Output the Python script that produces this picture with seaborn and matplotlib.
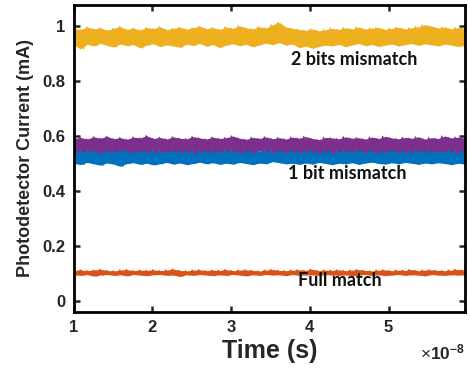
import numpy as np
import matplotlib
matplotlib.use("Agg")
import matplotlib.pyplot as plt
import seaborn as sns

# ---- data (mA), envelopes of the noisy traces ----
t_start, t_end = 1.0, 5.97   # in units of 1e-8 s

yellow_hi = [0.990,0.985,0.995,0.988,0.992,0.983,0.990,0.997,0.986,0.991,
             0.984,0.993,0.989,0.996,0.985,0.990,0.994,0.987,0.992,0.998,
             0.988,0.993,0.986,0.995,0.990,0.999,0.992,0.988,0.996,0.991,
             1.003,1.012,0.995,0.990,0.986,0.983,0.988,0.981,0.985,0.990,
             0.986,0.992,0.988,0.995,0.987,0.991,0.993,0.986,0.990,0.994,
             0.988,0.992,0.996,1.003,0.998,0.991,0.995,0.988,0.993,0.990]
yellow_lo = [0.930,0.915,0.932,0.926,0.935,0.928,0.922,0.933,0.927,0.931,
             0.919,0.929,0.934,0.924,0.930,0.926,0.921,0.932,0.928,0.935,
             0.925,0.931,0.920,0.929,0.934,0.927,0.932,0.923,0.930,0.936,
             0.931,0.938,0.929,0.933,0.920,0.925,0.918,0.924,0.929,0.926,
             0.932,0.923,0.930,0.935,0.927,0.931,0.924,0.929,0.933,0.926,
             0.931,0.935,0.928,0.934,0.930,0.926,0.933,0.929,0.924,0.928]

purple_hi = [0.590,0.594,0.588,0.596,0.591,0.598,0.589,0.593,0.587,0.595,
             0.592,0.600,0.590,0.594,0.588,0.596,0.591,0.589,0.597,0.592,
             0.588,0.595,0.590,0.593,0.599,0.591,0.587,0.594,0.590,0.596,
             0.589,0.593,0.588,0.595,0.591,0.597,0.590,0.586,0.594,0.592,
             0.589,0.596,0.591,0.593,0.588,0.595,0.590,0.598,0.592,0.589,
             0.594,0.591,0.596,0.588,0.593,0.590,0.599,0.592,0.595,0.591]
purple_lo = [0.542,0.538,0.545,0.540,0.533,0.543,0.539,0.546,0.541,0.537,
             0.544,0.540,0.535,0.542,0.539,0.545,0.538,0.541,0.532,0.543,
             0.540,0.537,0.544,0.539,0.542,0.535,0.541,0.538,0.545,0.540,
             0.536,0.543,0.539,0.541,0.537,0.544,0.540,0.531,0.542,0.536,
             0.543,0.539,0.541,0.545,0.538,0.542,0.537,0.540,0.544,0.539,
             0.541,0.536,0.543,0.540,0.538,0.544,0.539,0.542,0.533,0.541]

blue_hi = [0.548,0.552,0.545,0.550,0.547,0.553,0.546,0.551,0.549,0.544,
           0.550,0.547,0.553,0.548,0.545,0.551,0.549,0.546,0.552,0.548,
           0.545,0.550,0.547,0.553,0.549,0.546,0.551,0.548,0.544,0.550,
           0.553,0.549,0.546,0.551,0.548,0.545,0.550,0.547,0.552,0.549,
           0.546,0.551,0.548,0.553,0.547,0.550,0.545,0.549,0.552,0.548,
           0.550,0.546,0.551,0.548,0.553,0.549,0.545,0.550,0.547,0.551]
blue_lo = [0.500,0.495,0.503,0.498,0.493,0.501,0.497,0.489,0.499,0.502,
           0.496,0.500,0.494,0.498,0.503,0.497,0.501,0.495,0.499,0.504,
           0.498,0.502,0.496,0.500,0.497,0.503,0.499,0.495,0.501,0.498,
           0.506,0.502,0.498,0.500,0.496,0.501,0.497,0.503,0.499,0.495,
           0.500,0.498,0.502,0.496,0.501,0.504,0.499,0.497,0.502,0.498,
           0.503,0.500,0.496,0.501,0.498,0.502,0.499,0.495,0.500,0.497]

orange_hi = [0.111,0.113,0.110,0.112,0.115,0.111,0.109,0.112,0.114,0.110,
             0.112,0.111,0.113,0.110,0.112,0.116,0.111,0.109,0.112,0.113,
             0.110,0.112,0.111,0.114,0.110,0.112,0.113,0.111,0.109,0.112,
             0.114,0.111,0.110,0.112,0.113,0.111,0.115,0.110,0.112,0.111,
             0.113,0.110,0.112,0.114,0.111,0.109,0.112,0.113,0.110,0.112,
             0.111,0.114,0.110,0.112,0.113,0.111,0.110,0.112,0.115,0.112]
orange_lo = [0.095,0.093,0.096,0.090,0.094,0.096,0.093,0.095,0.091,0.096,
             0.094,0.092,0.095,0.096,0.093,0.094,0.089,0.095,0.093,0.096,
             0.094,0.092,0.095,0.093,0.096,0.094,0.091,0.095,0.093,0.096,
             0.094,0.095,0.092,0.096,0.093,0.094,0.095,0.092,0.096,0.094,
             0.093,0.095,0.091,0.094,0.096,0.093,0.095,0.092,0.094,0.096,
             0.093,0.095,0.094,0.091,0.096,0.094,0.093,0.095,0.094,0.095]

labels = ["2 bits mismatch", "1 bit mismatch", "Full match"]
label_x = [4.57, 4.48, 4.38]
label_y = [0.876, 0.462, 0.076]

y_ticks = [0, 0.2, 0.4, 0.6, 0.8, 1]
y_ticklabels = ["0", "0.2", "0.4", "0.6", "0.8", "1"]
x_ticks = [1, 2, 3, 4, 5]
x_ticklabels = ["1", "2", "3", "4", "5"]

colors = {"blue": "#0072BD", "orange": "#D95319",
          "yellow": "#EDB120", "purple": "#7E2F8E"}

# ---- style ----
sns.set_style("ticks")
plt.rcParams["font.family"] = ["Liberation Sans", "DejaVu Sans"]
plt.rcParams["mathtext.fontset"] = "custom"
plt.rcParams["mathtext.rm"] = "Liberation Sans"
plt.rcParams["mathtext.bf"] = "Liberation Sans:bold"

fig = plt.figure(figsize=(4.7, 3.8), dpi=100)
ax = fig.add_axes([0.157, 0.179, 0.832, 0.808])

series = [("blue", blue_hi, blue_lo), ("orange", orange_hi, orange_lo),
          ("yellow", yellow_hi, yellow_lo), ("purple", purple_hi, purple_lo)]

for name, hi, lo in series:
    hi = np.asarray(hi); lo = np.asarray(lo)
    n = len(hi)
    t = np.linspace(t_start, t_end, n)
    ax.fill_between(t, lo, hi, color=colors[name], lw=0)
    t2 = np.linspace(t_start, t_end, 2 * n)
    zig = np.empty(2 * n)
    zig[0::2] = hi
    zig[1::2] = lo
    sns.lineplot(x=t2, y=zig, ax=ax, color=colors[name], lw=0.9,
                 estimator=None, sort=False)

for txt, lx, ly in zip(labels, label_x, label_y):
    ax.text(lx, ly, txt, ha="center", va="center", fontsize=13,
            fontweight="bold", family=["Lato", "DejaVu Sans"], color="#111111")

ax.set_xlim(t_start, t_end)
ax.set_ylim(-0.04, 1.075)
ax.set_xticks(x_ticks)
ax.set_xticklabels(x_ticklabels)
ax.set_yticks(y_ticks)
ax.set_yticklabels(y_ticklabels)
ax.tick_params(direction="in", length=4, width=1.8, top=True, right=True,
               labelsize=12, pad=6)
for lab in ax.get_xticklabels() + ax.get_yticklabels():
    lab.set_fontweight("bold")
for sp in ax.spines.values():
    sp.set_linewidth(2)
    sp.set_color("black")

ax.set_xlabel("Time (s)", fontsize=18, fontweight="bold", labelpad=3)
ax.set_ylabel("Photodetector Current (mA)", fontsize=13, fontweight="bold", labelpad=6)
fig.text(0.99, 0.072, r"$\times\mathbf{10^{-8}}$", ha="right", va="center", fontsize=12.5)

fig.savefig("out.png", dpi=100)
